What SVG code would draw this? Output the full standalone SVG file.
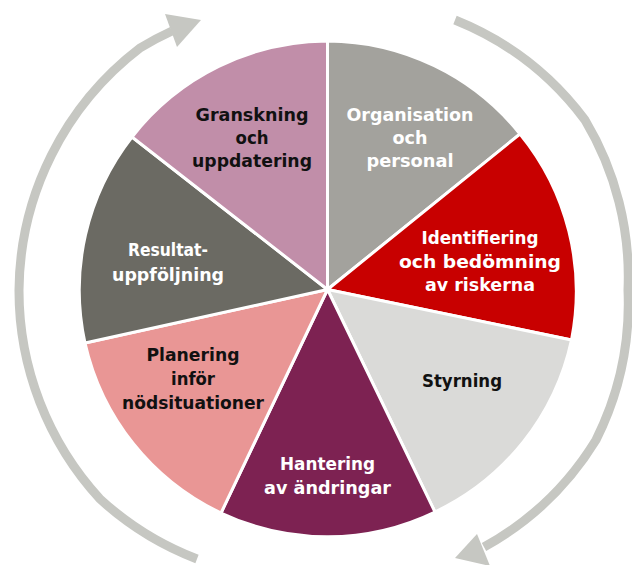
<svg xmlns="http://www.w3.org/2000/svg" width="632" height="565" viewBox="0 0 632 565">
  <style>
    .slice { stroke: #ffffff; stroke-width: 3; stroke-linejoin: round; }
    .lbl { font-family: "DejaVu Sans", "Liberation Sans", sans-serif; font-weight: bold; font-size: 18.5px; text-anchor: middle; }
    .light { fill: #ffffff; }
    .dark { fill: #111111; }
    .arc { fill: none; stroke: #C6C7C2; stroke-width: 9; stroke-linecap: butt; }
    .head { fill: #C6C7C2; }
  </style>
  <rect width="632" height="565" fill="#ffffff"/>

  <g id="connectors">
    <path class="arc" d="M 197 559 A 306 306 0 0 1 100 499 A 308 308 0 0 1 19 290 A 308 308 0 0 1 140 48 A 305 305 0 0 1 172 31"/>
    <polygon class="head" points="165,14 201,20 177,47"/>
    <path class="arc" d="M 455 20 A 303 303 0 0 1 585 120 A 305 305 0 0 1 628 290 A 305 305 0 0 1 596 440 A 303 303 0 0 1 484 547"/>
    <polygon class="head" points="477,534 455,558 490,566"/>
  </g>

  <g id="organisation">
    <path class="slice" fill="#A3A29D" d="M 327.5 289.5 L 327.5 41 A 248.5 248.5 0 0 1 520 134 Z"/>
    <text class="lbl light" x="410" y="120.5" textLength="127" lengthAdjust="spacingAndGlyphs">Organisation</text>
    <text class="lbl light" x="410" y="144" textLength="35" lengthAdjust="spacingAndGlyphs">och</text>
    <text class="lbl light" x="410" y="167" textLength="87" lengthAdjust="spacingAndGlyphs">personal</text>
  </g>
  <g id="identifiering">
    <path class="slice" fill="#C80000" d="M 327.5 289.5 L 520 134 A 248.5 248.5 0 0 1 571.5 340 Z"/>
    <text class="lbl light" x="480" y="243.5" textLength="117" lengthAdjust="spacingAndGlyphs">Identifiering</text>
    <text class="lbl light" x="480" y="267.5" textLength="162" lengthAdjust="spacingAndGlyphs">och bedömning</text>
    <text class="lbl light" x="480" y="291" textLength="110" lengthAdjust="spacingAndGlyphs">av riskerna</text>
  </g>
  <g id="styrning">
    <path class="slice" fill="#DADAD8" d="M 327.5 289.5 L 571.5 340 A 248.5 248.5 0 0 1 435 512 Z"/>
    <text class="lbl dark" x="462" y="387" textLength="80" lengthAdjust="spacingAndGlyphs">Styrning</text>
  </g>
  <g id="hantering">
    <path class="slice" fill="#7D2252" d="M 327.5 289.5 L 435 512 A 248.5 248.5 0 0 1 221 513 Z"/>
    <text class="lbl light" x="327.5" y="470" textLength="95" lengthAdjust="spacingAndGlyphs">Hantering</text>
    <text class="lbl light" x="327.5" y="493.5" textLength="127" lengthAdjust="spacingAndGlyphs">av ändringar</text>
  </g>
  <g id="planering">
    <path class="slice" fill="#E99695" d="M 327.5 289.5 L 221 513 A 248.5 248.5 0 0 1 85 343 Z"/>
    <text class="lbl dark" x="193" y="361" textLength="93" lengthAdjust="spacingAndGlyphs">Planering</text>
    <text class="lbl dark" x="193" y="385" textLength="44" lengthAdjust="spacingAndGlyphs">inför</text>
    <text class="lbl dark" x="193" y="409" textLength="142" lengthAdjust="spacingAndGlyphs">nödsituationer</text>
  </g>
  <g id="resultat">
    <path class="slice" fill="#6B6A63" d="M 327.5 289.5 L 85 343 A 248.5 248.5 0 0 1 132 137 Z"/>
    <text class="lbl light" x="168" y="256" textLength="80" lengthAdjust="spacingAndGlyphs">Resultat-</text>
    <text class="lbl light" x="168" y="280.5" textLength="112" lengthAdjust="spacingAndGlyphs">uppföljning</text>
  </g>
  <g id="granskning">
    <path class="slice" fill="#C18EA9" d="M 327.5 289.5 L 132 137 A 248.5 248.5 0 0 1 327.5 41 Z"/>
    <text class="lbl dark" x="252" y="120.5" textLength="113" lengthAdjust="spacingAndGlyphs">Granskning</text>
    <text class="lbl dark" x="252" y="144" textLength="33" lengthAdjust="spacingAndGlyphs">och</text>
    <text class="lbl dark" x="252" y="167" textLength="120" lengthAdjust="spacingAndGlyphs">uppdatering</text>
  </g>
</svg>
